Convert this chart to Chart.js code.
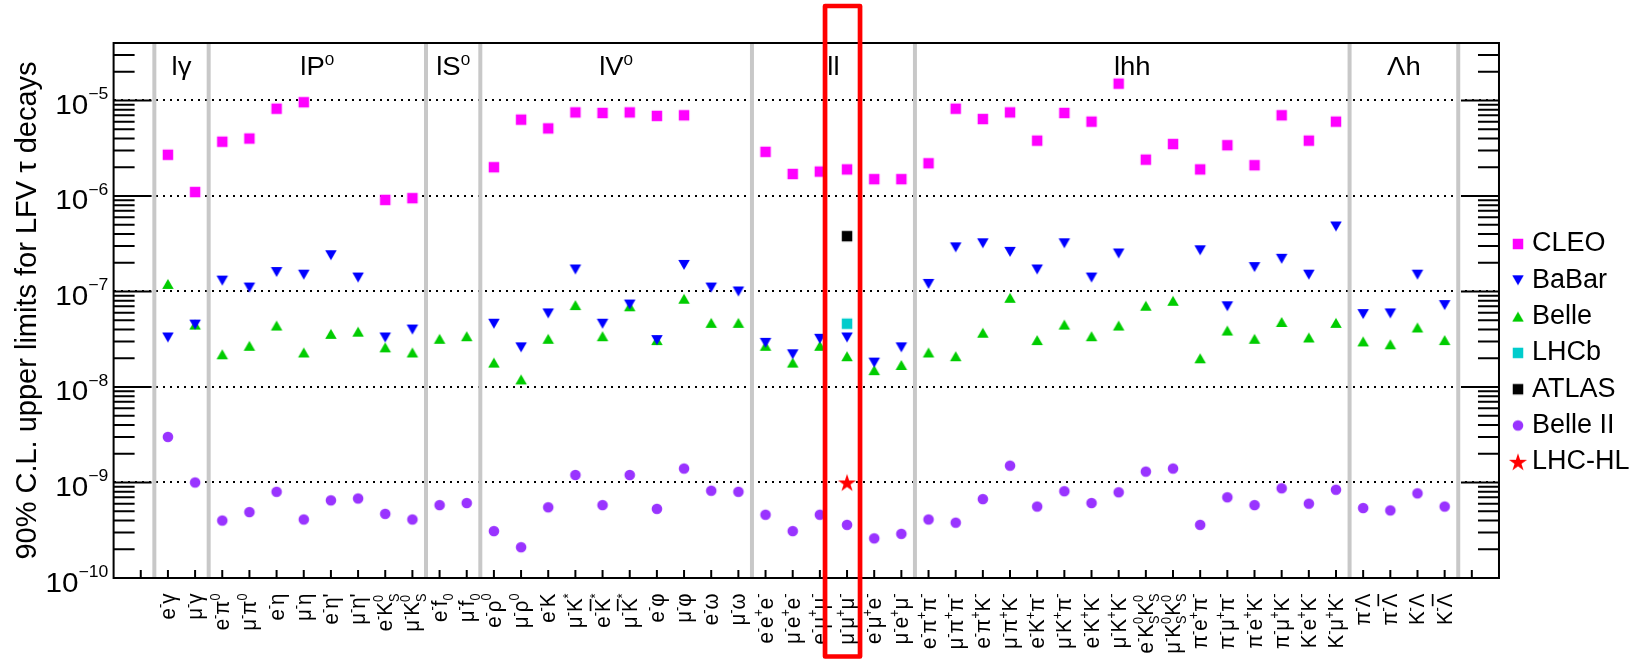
<!DOCTYPE html>
<html><head><meta charset="utf-8">
<script src="https://cdn.jsdelivr.net/npm/chart.js@4.4.0/dist/chart.umd.min.js"></script>
<style>html,body{margin:0;padding:0;background:#fff;}canvas{display:block;}</style>
</head><body>
<canvas id="c" width="1647" height="659"></canvas>
<script>
// ---------- data ----------
const categories = [
 'e^{-}γ','μ^{-}γ',
 'e^{-}π^{0}','μ^{-}π^{0}','e^{-}η','μ^{-}η',"e^{-}η'","μ^{-}η'",'e^{-}K^{0}_{S}','μ^{-}K^{0}_{S}',
 'e^{-}f_{0}','μ^{-}f_{0}',
 'e^{-}ρ^{0}','μ^{-}ρ^{0}','e^{-}K','μ^{-}K^{*}','e^{-}#bar{K}^{*}','μ^{-}#bar{K}^{*}','e^{-}φ','μ^{-}φ','e^{-}ω','μ^{-}ω',
 'e^{-}e^{+}e^{-}','μ^{-}e^{+}e^{-}','e^{-}μ^{+}μ^{-}','μ^{-}μ^{+}μ^{-}','e^{-}μ^{+}e^{-}','μ^{-}e^{+}μ^{-}',
 'e^{-}π^{+}π^{-}','μ^{-}π^{+}π^{-}','e^{-}π^{+}K^{-}','μ^{-}π^{+}K^{-}','e^{-}K^{+}π^{-}','μ^{-}K^{+}π^{-}',
 'e^{-}K^{+}K^{-}','μ^{-}K^{+}K^{-}','e^{-}K^{0}_{S}K^{0}_{S}','μ^{-}K^{0}_{S}K^{0}_{S}',
 'π^{-}e^{+}π^{-}','π^{-}μ^{+}π^{-}','π^{-}e^{+}K^{-}','π^{-}μ^{+}K^{-}','K^{-}e^{+}K^{-}','K^{-}μ^{+}K^{-}',
 'π^{-}Λ','π^{-}#bar{Λ}','K^{-}Λ','K^{-}#bar{Λ}'
];
const groupLabels = ['lγ','lP^{0}','lS^{0}','lV^{0}','ll','lhh','Λh'];
const groupSizes  = [2, 8, 2, 10, 6, 16, 4];
const decadeTicks = [1e-10, 1e-9, 1e-8, 1e-7, 1e-6, 1e-5];
const seriesNames = ['CLEO','BaBar','Belle','LHCb','ATLAS','Belle II','LHC-HL'];
const highlightIndex = 25;

const cleo = [2.7e-6,1.1e-6, 3.7e-6,4.0e-6,8.2e-6,9.6e-6,null,null,9.1e-7,9.5e-7, null,null,
 2.0e-6,6.3e-6,5.1e-6,7.5e-6,7.4e-6,7.5e-6,6.9e-6,7.0e-6,null,null,
 2.9e-6,1.7e-6,1.8e-6,1.9e-6,1.5e-6,1.5e-6,
 2.2e-6,8.2e-6,6.4e-6,7.5e-6,3.8e-6,7.4e-6,6.0e-6,1.5e-5,2.4e-6,3.5e-6,1.9e-6,3.4e-6,2.1e-6,7.0e-6,3.8e-6,6.0e-6,
 null,null,null,null];
const babar = [3.3e-8,4.5e-8, 1.3e-7,1.1e-7,1.6e-7,1.5e-7,2.4e-7,1.4e-7,3.3e-8,4.0e-8, null,null,
 4.6e-8,2.6e-8,5.9e-8,1.7e-7,4.6e-8,7.3e-8,3.1e-8,1.9e-7,1.1e-7,1.0e-7,
 2.9e-8,2.2e-8,3.2e-8,3.3e-8,1.8e-8,2.6e-8,
 1.2e-7,2.9e-7,3.2e-7,2.6e-7,1.7e-7,3.2e-7,1.4e-7,2.5e-7,null,null,2.7e-7,7.0e-8,1.8e-7,2.2e-7,1.5e-7,4.8e-7,
 5.8e-8,5.9e-8,1.5e-7,7.2e-8];
const belle = [1.2e-7,4.5e-8, 2.2e-8,2.7e-8,4.4e-8,2.3e-8,3.6e-8,3.8e-8,2.6e-8,2.3e-8, 3.2e-8,3.4e-8,
 1.8e-8,1.2e-8,3.2e-8,7.2e-8,3.4e-8,7.0e-8,3.1e-8,8.4e-8,4.7e-8,4.7e-8,
 2.7e-8,1.8e-8,2.7e-8,2.1e-8,1.5e-8,1.7e-8,
 2.3e-8,2.1e-8,3.7e-8,8.6e-8,3.1e-8,4.5e-8,3.4e-8,4.4e-8,7.1e-8,8.0e-8,2.0e-8,3.9e-8,3.2e-8,4.8e-8,3.3e-8,4.7e-8,
 3.0e-8,2.8e-8,4.2e-8,3.1e-8];
const lhcb  = categories.map((c,i)=> i===25 ? 4.6e-8 : null);
const atlas = categories.map((c,i)=> i===25 ? 3.8e-7 : null);
const lhchl = categories.map((c,i)=> i===25 ? 1.0e-9 : null);
const belle2 = [3.0e-9,1.0e-9, 4.0e-10,4.9e-10,8.0e-10,4.1e-10,6.5e-10,6.8e-10,4.7e-10,4.1e-10, 5.8e-10,6.1e-10,
 3.1e-10,2.1e-10,5.5e-10,1.2e-9,5.8e-10,1.2e-9,5.3e-10,1.4e-9,8.2e-10,8.0e-10,
 4.6e-10,3.1e-10,4.6e-10,3.6e-10,2.6e-10,2.9e-10,
 4.1e-10,3.8e-10,6.7e-10,1.5e-9,5.6e-10,8.1e-10,6.1e-10,7.9e-10,1.3e-9,1.4e-9,3.6e-10,7.0e-10,5.8e-10,8.7e-10,6.0e-10,8.4e-10,
 5.4e-10,5.1e-10,7.7e-10,5.6e-10];

// ---------- style ----------
const FAM = '"Liberation Sans", Arial, Helvetica, sans-serif';
const SX = 1.1;
const XL = 20.5;   // x label font size
Chart.defaults.font.family = FAM;
Chart.defaults.color = '#000';

function makeMarker(kind, color){
  const S = kind === 'star' ? 22 : 14;
  const c = document.createElement('canvas'); c.width = S; c.height = S;
  const g = c.getContext('2d'); g.fillStyle = color; const m = S/2;
  if (kind === 'square') g.fillRect(m-5.25, m-5.25, 10.5, 10.5);
  else if (kind === 'circle') { g.beginPath(); g.arc(m, m, 5.3, 0, Math.PI*2); g.fill(); }
  else if (kind === 'up' || kind === 'down') {
    const w = 11.5, h = 10, s = kind === 'up' ? 1 : -1;
    g.beginPath(); g.moveTo(m-w/2, m+s*h/2); g.lineTo(m+w/2, m+s*h/2); g.lineTo(m, m-s*h/2); g.closePath(); g.fill();
  } else if (kind === 'star') {
    const R = 9.5, r = R*0.382;
    g.beginPath();
    for (let k=0;k<10;k++){ const a=-Math.PI/2 + k*Math.PI/5, rr = k%2 ? r : R; g.lineTo(m + rr*Math.cos(a), m + 0.9 + rr*Math.sin(a)); }
    g.closePath(); g.fill();
  }
  return c;
}
function pts(arr){ const o=[]; arr.forEach((v,i)=>{ if(v!=null) o.push({x:i, y:v}); }); return o; }
function ds(label, arr, kind, color){
  return {label, data: pts(arr), pointStyle: makeMarker(kind, color), backgroundColor: color, borderColor: color, pointRadius: 6, showLine: false};
}

// ---------- rich text (sup/sub/bar) ----------
function parseRich(s){
  const runs=[]; let i=0, buf='';
  const flush=()=>{ if(buf){ runs.push({t:buf,k:'n',bar:false}); buf=''; } };
  while(i<s.length){
    const c=s[i];
    if((c==='^'||c==='_') && s[i+1]==='{'){ flush(); const j=s.indexOf('}',i+2); runs.push({t:s.slice(i+2,j),k:c==='^'?'sup':'sub'}); i=j+1; }
    else if(s.startsWith('#bar{',i)){ flush(); const j=s.indexOf('}',i+5); runs.push({t:s.slice(i+5,j),k:'n',bar:true}); i=j+1; }
    else { buf+=c; i++; }
  }
  flush(); return runs;
}
function layoutRich(ctx, runs, size){
  const small = size*0.62, items=[]; let x=0;
  for(let r=0;r<runs.length;r++){
    const run=runs[r];
    if(run.k==='n'){
      ctx.font = size+'px '+FAM; const w=ctx.measureText(run.t).width;
      items.push({t:run.t,x,dy:0,font:ctx.font,bar:run.bar,w}); x+=w;
    } else {
      ctx.font = small+'px '+FAM; const w=ctx.measureText(run.t).width;
      items.push({t:run.t,x,dy: run.k==='sup' ? -size*0.42 : size*0.28, font:ctx.font, w});
      const nx=runs[r+1];
      if(run.k==='sup' && nx && nx.k==='sub'){
        const w2=ctx.measureText(nx.t).width;
        items.push({t:nx.t,x,dy:size*0.28,font:ctx.font,w:w2});
        x+=Math.max(w,w2); r++;
      } else x+=w;
    }
  }
  return {items, width:x};
}
function drawRich(ctx, lay, x0, y0, size){
  lay.items.forEach(it=>{
    ctx.font=it.font; ctx.fillText(it.t, x0+it.x, y0+it.dy);
    if(it.bar) ctx.fillRect(x0+it.x+1, y0-size*0.88, it.w-1.5, Math.max(1.2,size*0.075));
  });
}
function isDecadeGrid(v){
  if(!v) return false; const l=Math.log10(v);
  return Math.abs(l-Math.round(l))<1e-6 && l>-9.5 && l<-4.5;
}

// ---------- decorations ----------
const decor = {
  id:'decor',
  beforeDatasetsDraw(chart){
    const {ctx, chartArea:a, scales:{x}} = chart;
    ctx.save();
    ctx.strokeStyle='#c8c8c8'; ctx.lineWidth=4;
    let b=-0.5; const bounds=[b]; groupSizes.forEach(s=>{ b+=s; bounds.push(b); });
    bounds.forEach(v=>{ const px=x.getPixelForValue(v); ctx.beginPath(); ctx.moveTo(px,a.top); ctx.lineTo(px,a.bottom); ctx.stroke(); });
    ctx.fillStyle='#000'; ctx.textAlign='left'; ctx.textBaseline='alphabetic';
    let start=0;
    groupLabels.forEach((g,k)=>{
      const cx = x.getPixelForValue(start + (groupSizes[k]-1)/2);
      const lay = layoutRich(ctx, parseRich(g), 25);
      ctx.save(); ctx.translate(cx, a.top+32); ctx.scale(SX,1); drawRich(ctx, lay, -lay.width/2, 0, 25); ctx.restore();
      start += groupSizes[k];
    });
    ctx.restore();
  },
  afterDatasetsDraw(chart){
    const {ctx, chartArea:a, scales:{x,y}} = chart;
    ctx.save();
    ctx.strokeStyle='#000'; ctx.lineWidth=2;
    y.ticks.forEach(t=>{
      const py=y.getPixelForValue(t.value);
      if(py < a.top+1 || py > a.bottom-1) return;
      const l=Math.log10(t.value), major=Math.abs(l-Math.round(l))<1e-6, len=major?38:21;
      ctx.beginPath(); ctx.moveTo(a.left,py); ctx.lineTo(a.left+len,py); ctx.moveTo(a.right,py); ctx.lineTo(a.right-len,py); ctx.stroke();
    });
    for(let i=Math.ceil(x.min)+1;i<x.max;i++){
      const px=x.getPixelForValue(i);
      ctx.beginPath(); ctx.moveTo(px,a.bottom); ctx.lineTo(px,a.bottom-8); ctx.stroke();
    }
    ctx.strokeRect(a.left,a.top,a.right-a.left,a.bottom-a.top);
    ctx.fillStyle='#000'; ctx.textAlign='left'; ctx.textBaseline='alphabetic';
    decadeTicks.forEach(v=>{
      const py=y.getPixelForValue(v), e=Math.round(Math.log10(v)), es='\u2212'+(-e);
      ctx.save(); ctx.translate(a.left-5.3, py); ctx.scale(SX,1);
      ctx.font='16px '+FAM; const we=ctx.measureText(es).width; ctx.fillText(es,-we,-1);
      ctx.font='27px '+FAM; const wb=ctx.measureText('10').width; ctx.fillText('10',-we-wb,13.5);
      ctx.restore();
    });
    categories.forEach((lab,i)=>{
      const px=x.getPixelForValue(i), lay=layoutRich(ctx, parseRich(lab), XL);
      ctx.save(); ctx.translate(px+7, a.bottom+15.5); ctx.scale(SX,1); ctx.rotate(-Math.PI/2);
      drawRich(ctx, lay, -lay.width, 0, XL); ctx.restore();
    });
    ctx.restore();
  },
  afterDraw(chart){
    const {ctx, scales:{x}} = chart;
    const px=x.getPixelForValue(highlightIndex);
    ctx.save(); ctx.strokeStyle='#ff0000'; ctx.lineWidth=4.7; ctx.lineJoin='round';
    ctx.strokeRect(px-22, 6, 35, chart.height-8.5);
    ctx.restore();
  }
};

new Chart(document.getElementById('c'), {
  type:'scatter',
  data:{ datasets:[
    ds(seriesNames[0], cleo,  'square', '#ff00ff'),
    ds(seriesNames[1], babar, 'down',   '#0000ff'),
    ds(seriesNames[2], belle, 'up',     '#00cc00'),
    ds(seriesNames[3], lhcb,  'square', '#00cccc'),
    ds(seriesNames[4], atlas, 'square', '#000000'),
    ds(seriesNames[5], belle2,'circle', '#9933ff'),
    ds(seriesNames[6], lhchl, 'star',   '#ff0000')
  ]},
  options:{
    responsive:false, animation:false, events:[], devicePixelRatio:1,
    layout:{ padding:{ top:43, right:7.5, bottom:0, left:0 } },
    scales:{
      x:{ type:'linear', min:-2, max:49, position:'bottom',
          ticks:{display:false}, grid:{display:false}, border:{display:false},
          afterFit:s=>{ s.height=81; } },
      y:{ type:'logarithmic', position:'left', min:1e-10, max:4e-5,
          afterBuildTicks:s=>{ const t=[]; for(let e=-10;e<=-5;e++) for(let m=1;m<=9;m++){ const v=m*Math.pow(10,e); if(v<=4e-5*1.0001) t.push({value:v}); } s.ticks=t; },
          afterFit:s=>{ s.width=113.6; },
          ticks:{display:false},
          grid:{ drawTicks:false, lineWidth:2, color:c=> isDecadeGrid(c.tick && c.tick.value) ? '#000' : 'rgba(0,0,0,0)' },
          border:{ display:false, dash:[2,5] },
          title:{ display:true, text:'90% C.L. upper limits for LFV τ decays', color:'#000', font:{size:29}, padding:{top:11,bottom:0} } },
      y2:{ type:'linear', position:'right', display:true,
           ticks:{display:false}, grid:{display:false, drawTicks:false}, border:{display:false},
           afterFit:s=>{ s.width=9.2; } }
    },
    plugins:{
      tooltip:{enabled:false},
      legend:{ position:'right', align:'start',
        title:{ display:true, text:'', font:{size:10}, padding:{top:166.2,bottom:0} },
        labels:{ usePointStyle:true, pointStyleWidth:1, padding:9.3, color:'#000', font:{size:27} } }
    }
  },
  plugins:[decor]
});
</script>
</body></html>
